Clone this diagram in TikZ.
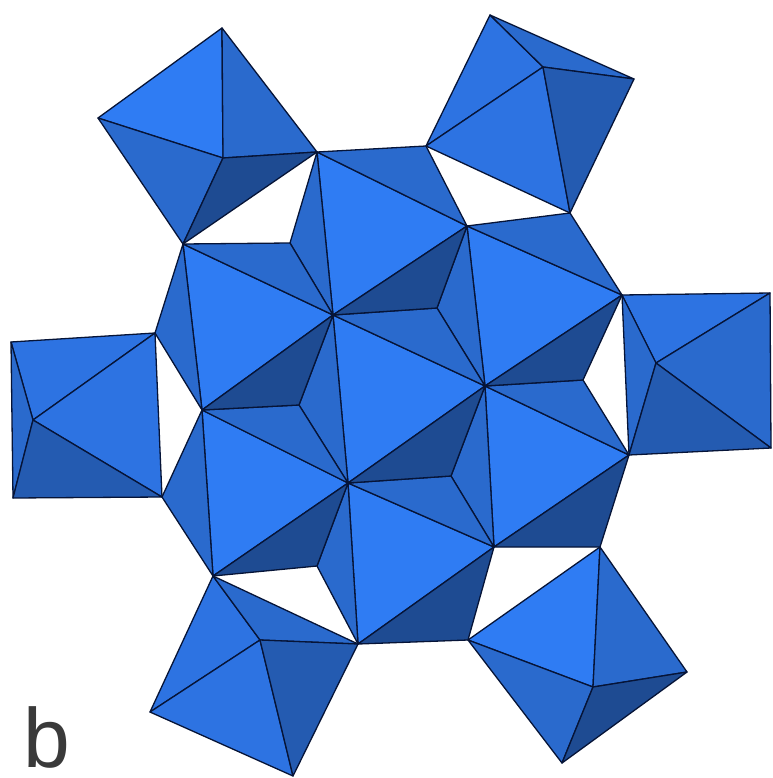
\documentclass[tikz,border=0pt]{standalone}
\usepackage{fontspec}
\setmainfont{Liberation Sans}
\definecolor{shadeA}{RGB}{47,124,243}
\definecolor{shadeB}{RGB}{45,115,226}
\definecolor{shadeC}{RGB}{42,106,205}
\definecolor{shadeD}{RGB}{36,91,177}
\definecolor{shadeE}{RGB}{30,75,146}
\definecolor{edge}{RGB}{6,20,55}
\definecolor{labelgray}{RGB}{58,58,58}
\begin{document}
\begin{tikzpicture}[
    x=1pt, y=-1pt,
    face/.style={draw=edge, line width=1.3pt, line join=round},
    letter/.style={text=labelgray, inner sep=0pt, font=\fontsize{84}{84}\selectfont}
]
\useasboundingbox (0,0) rectangle (772,778);
\coordinate (vA) at (317,152);
\coordinate (vB) at (426,146);
\coordinate (vC) at (467,226);
\coordinate (vD) at (333,315);
\coordinate (vE) at (290,243);
\coordinate (vF) at (183,244);
\coordinate (vG) at (437,308);
\coordinate (vH) at (485,386);
\coordinate (vI) at (622,295);
\coordinate (vJ) at (570,213);
\coordinate (vK) at (583,380);
\coordinate (vL) at (629,455);
\coordinate (vM) at (348,483);
\coordinate (vN) at (451,476);
\coordinate (vO) at (494,547);
\coordinate (vP) at (600,547);
\coordinate (vQ) at (202,410);
\coordinate (vR) at (155,333);
\coordinate (vS) at (299,405);
\coordinate (vT) at (213,576);
\coordinate (vU) at (162,497);
\coordinate (vV) at (317,566);
\coordinate (vW) at (358,644);
\coordinate (vX) at (468,640);
\coordinate (nwTop) at (222,28);
\coordinate (nwLeft) at (98,118);
\coordinate (nwMid) at (223,158);
\coordinate (neTop) at (490,15);
\coordinate (neRight) at (634,79);
\coordinate (neMid) at (543,67);
\coordinate (wTop) at (11,342);
\coordinate (wBot) at (13,498);
\coordinate (wMid) at (33,420);
\coordinate (eTop) at (770,293);
\coordinate (eBot) at (771,448);
\coordinate (eMid) at (656,363);
\coordinate (swMid) at (260,640);
\coordinate (swLeft) at (150,712);
\coordinate (swBot) at (293,776);
\coordinate (seMid) at (593,687);
\coordinate (seRight) at (687,672);
\coordinate (seBot) at (562,763);

\foreach \pa/\pb/\pc in {vA/vC/vD, vC/vI/vH, vD/vH/vM, vD/vF/vQ, vQ/vM/vT, vH/vL/vO, vM/vO/vW, nwTop/nwLeft/nwMid, vP/vX/seMid}
    \filldraw[face, fill=shadeA] (\pa) -- (\pb) -- (\pc) -- cycle;
\foreach \pa/\pb/\pc in {neTop/neMid/vB, vB/neMid/vJ, wTop/vR/wMid, vR/vU/wMid, vI/eTop/eMid, vT/swMid/swLeft, swLeft/swMid/swBot}
    \filldraw[face, fill=shadeB] (\pa) -- (\pb) -- (\pc) -- cycle;
\foreach \pa/\pb/\pc in {vA/vB/vC, vA/vE/vD, vF/vE/vD, vF/vR/vQ, vC/vG/vH, vD/vG/vH, vC/vJ/vI, vH/vK/vL, vD/vS/vM, vQ/vS/vM, vH/vN/vO, vM/vN/vO, vQ/vU/vT, vM/vV/vW, nwLeft/nwMid/vF, nwTop/vA/nwMid, neTop/neRight/neMid, wTop/wBot/wMid, vI/vL/eMid, eTop/eBot/eMid, vP/seRight/seMid, vX/seMid/seBot, vT/vW/swMid}
    \filldraw[face, fill=shadeC] (\pa) -- (\pb) -- (\pc) -- cycle;
\foreach \pa/\pb/\pc in {neRight/vJ/neMid, wBot/vU/wMid, vL/eBot/eMid, vW/swBot/swMid}
    \filldraw[face, fill=shadeD] (\pa) -- (\pb) -- (\pc) -- cycle;
\foreach \pa/\pb/\pc in {vC/vD/vG, vH/vI/vK, vD/vQ/vS, vH/vM/vN, vM/vT/vV, vL/vO/vP, vW/vO/vX, nwMid/vA/vF, seMid/seRight/seBot}
    \filldraw[face, fill=shadeE] (\pa) -- (\pb) -- (\pc) -- cycle;

\node[letter, anchor=base west] (panel) at (23,767) {b};
\end{tikzpicture}
\end{document}
